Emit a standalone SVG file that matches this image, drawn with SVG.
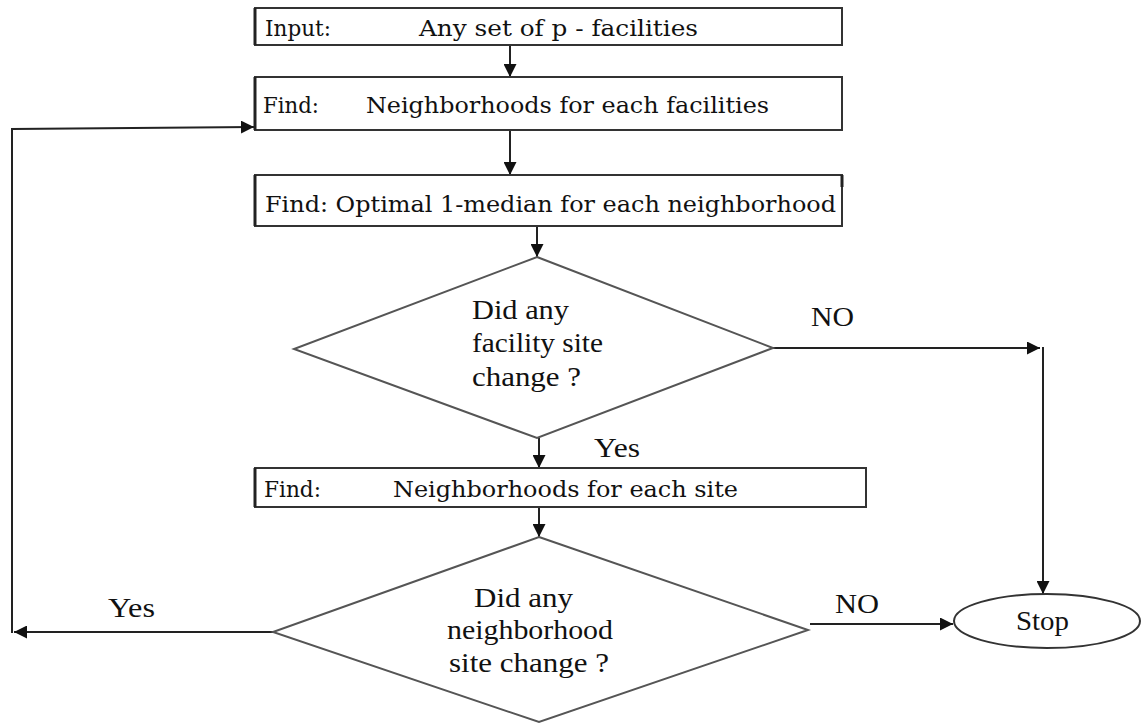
<svg xmlns="http://www.w3.org/2000/svg" width="1144" height="726" viewBox="0 0 1144 726">
<defs>
<marker id="ah" viewBox="0 0 12 12" refX="12" refY="6" markerWidth="13" markerHeight="13" markerUnits="userSpaceOnUse" orient="auto">
<path d="M0,0 L12,6 L0,12 Z" fill="#111"/>
</marker>
<style>
.box{fill:#fff;stroke:#333;stroke-width:2}
.edge{stroke:#222;stroke-width:3}
.dia{fill:#fff;stroke:#555;stroke-width:2}
.conn{fill:none;stroke:#222;stroke-width:2}
.bt{font-family:"DejaVu Serif","Liberation Serif",serif;font-size:23px;fill:#111}
.dt{font-family:"Liberation Serif","DejaVu Serif",serif;font-size:28px;fill:#111}
</style>
</defs>
<rect width="1144" height="726" fill="#fff"/>
<g id="connectors">
<line class="conn" x1="510" y1="45" x2="510" y2="77" marker-end="url(#ah)"/>
<line class="conn" x1="510" y1="130" x2="510" y2="175" marker-end="url(#ah)"/>
<line class="conn" x1="537" y1="226" x2="537" y2="257" marker-end="url(#ah)"/>
<line class="conn" x1="539" y1="438" x2="539" y2="468" marker-end="url(#ah)"/>
<line class="conn" x1="539" y1="507" x2="539" y2="537" marker-end="url(#ah)"/>
<line class="conn" x1="773" y1="348" x2="1040" y2="348" marker-end="url(#ah)"/>
<line class="conn" x1="1043" y1="347" x2="1043" y2="594" stroke-width="3" marker-end="url(#ah)"/>
<line class="conn" x1="810" y1="624" x2="953" y2="624" marker-end="url(#ah)"/>
<line class="conn" x1="273" y1="632" x2="14" y2="632" marker-end="url(#ah)"/>
<polyline class="conn" points="12,633 12,129 254,127" marker-end="url(#ah)"/>
</g>
<g id="n1">
<rect class="box" x="255" y="8" width="587" height="37"/>
<line class="edge" x1="255" y1="8" x2="255" y2="45"/>
<text class="bt" x="265" y="36" textLength="66" lengthAdjust="spacingAndGlyphs">Input:</text>
<text class="bt" x="419" y="36" textLength="279" lengthAdjust="spacingAndGlyphs">Any set of p - facilities</text>
</g>
<g id="n2">
<rect class="box" x="255" y="77" width="587" height="53"/>
<line class="edge" x1="255" y1="77" x2="255" y2="130"/>
<text class="bt" x="263" y="113" textLength="56" lengthAdjust="spacingAndGlyphs">Find:</text>
<text class="bt" x="366" y="113" textLength="403" lengthAdjust="spacingAndGlyphs">Neighborhoods for each facilities</text>
</g>
<g id="n3">
<rect class="box" x="255" y="175" width="587" height="51"/>
<line class="edge" x1="255" y1="175" x2="255" y2="226"/>
<line class="edge" x1="842" y1="175" x2="842" y2="187"/>
<text class="bt" x="265" y="212" textLength="571" lengthAdjust="spacingAndGlyphs">Find: Optimal 1-median for each neighborhood</text>
</g>
<g id="d1">
<polygon class="dia" points="537,257 773,348 537,438 294,349"/>
<text class="dt" x="472" y="319" textLength="97" lengthAdjust="spacingAndGlyphs">Did any</text>
<text class="dt" x="472" y="352" textLength="131" lengthAdjust="spacingAndGlyphs">facility site</text>
<text class="dt" x="472" y="386" textLength="109" lengthAdjust="spacingAndGlyphs">change ?</text>
</g>
<g id="n4">
<rect class="box" x="255" y="468" width="611" height="39"/>
<line class="edge" x1="255" y1="468" x2="255" y2="507"/>
<text class="bt" x="264" y="497" textLength="57" lengthAdjust="spacingAndGlyphs">Find:</text>
<text class="bt" x="393" y="497" textLength="345" lengthAdjust="spacingAndGlyphs">Neighborhoods for each site</text>
</g>
<g id="d2">
<polygon class="dia" points="539,537 808,630 539,722 273,632"/>
<text class="dt" x="474" y="607" textLength="99" lengthAdjust="spacingAndGlyphs">Did any</text>
<text class="dt" x="447" y="639" textLength="166" lengthAdjust="spacingAndGlyphs">neighborhood</text>
<text class="dt" x="449" y="672" textLength="160" lengthAdjust="spacingAndGlyphs">site change ?</text>
</g>
<g id="stop">
<ellipse cx="1047" cy="621" rx="93" ry="27" fill="#fff" stroke="#333" stroke-width="2"/>
<text class="dt" x="1016" y="630" textLength="53" lengthAdjust="spacingAndGlyphs">Stop</text>
</g>
<g id="labels">
<text class="dt" x="811" y="326" textLength="43" lengthAdjust="spacingAndGlyphs">NO</text>
<text class="dt" x="594" y="457" textLength="46" lengthAdjust="spacingAndGlyphs">Yes</text>
<text class="dt" x="108" y="617" textLength="47" lengthAdjust="spacingAndGlyphs">Yes</text>
<text class="dt" x="835" y="613" textLength="44" lengthAdjust="spacingAndGlyphs">NO</text>
</g>
</svg>
